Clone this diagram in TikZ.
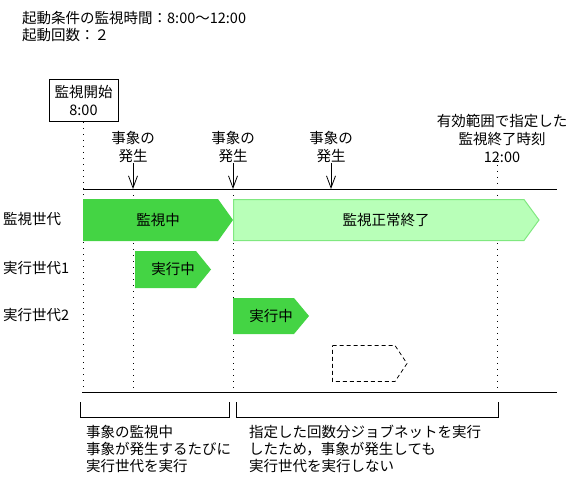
\documentclass[tikz,border=0pt]{standalone}
\usepackage{fontspec}
\setmainfont{Noto Sans CJK JP}
\usetikzlibrary{arrows.meta,positioning,calc}
\definecolor{runcolor}{RGB}{68,212,68}
\definecolor{donecolor}{RGB}{184,255,184}
\definecolor{doneedge}{RGB}{128,232,128}
\tikzset{
jptext/.style={
  font=\fontsize{14.5}{17}\selectfont,
  inner sep=0pt
},
rowlabel/.style={
  jptext,
  anchor=west
},
startbox/.style={
  draw,
  line width=1pt,
  minimum width=69pt,
  minimum height=42pt,
  align=center,
  jptext,
  font=\fontsize{14.5}{18}\selectfont
},
eventlabel/.style={
  jptext,
  align=center,
  font=\fontsize{14.5}{18}\selectfont
},
notetext/.style={
  jptext,
  align=left,
  anchor=west,
  font=\fontsize{14.5}{17}\selectfont
},
timeline/.style={
  line width=1pt
},
dotline/.style={
  line width=1pt,
  dash pattern=on 1pt off 5pt
},
evarrow/.style={
  -{Straight Barb[length=12pt,width=9pt]},
  line width=0.8pt
}
}

\begin{document}
\begin{tikzpicture}[x=1pt, y=-1pt,
    runbar/.style={fill=runcolor},
    donebar/.style={fill=donecolor, draw=doneedge, line width=1pt},
    skipbar/.style={draw=black, line width=0.8pt, dash pattern=on 4pt off 3pt},
    bartext/.style={jptext}
]
\useasboundingbox (0,0) rectangle (573,484);

% Kopf
\node[notetext] (head) at (22,26.5) {起動条件の監視時間：8:00～12:00\\起動回数：２};

% Zeitachse
\coordinate (tl) at (83,189);
\coordinate (tr) at (557,189);
\coordinate (bl) at (82,392);
\coordinate (br) at (557,392);
\draw[timeline] (tl) -- (tr);
\draw[timeline] (bl) -- (br);

% Beginn / Ende
\node[startbox] (start) at (83.5,100.5) {監視開始\\8:00};
\node[eventlabel] (endtime) at (502,138.5) {有効範囲で指定した\\監視終了時刻\\12:00};

% Ereignisse
\node[eventlabel] (ev1) at (133,147) {事象の\\発生};
\node[eventlabel] (ev2) at (233,147) {事象の\\発生};
\node[eventlabel] (ev3) at (331,147) {事象の\\発生};
\draw[evarrow] (ev1.south) -- (ev1 |- tl);
\draw[evarrow] (ev2.south) -- (ev2 |- tl);
\draw[evarrow] (ev3.south) -- (ev3 |- tl);

% Hilfslinien
\draw[dotline] (start.south -| tl) -- (bl -| tl);
\draw[dotline] (ev1 |- tl) -- (ev1 |- bl);
\draw[dotline] (ev2 |- tl) -- (ev2 |- bl);
\draw[dotline] ([yshift=4pt]endtime.south -| 497,0) -- (497,389);

% Zeilen
\node[rowlabel] (rowmon) at (3,219) {監視世代};
\node[rowlabel] (rowgen1) at (3,268) {実行世代1};
\node[rowlabel] (rowgen2) at (3,315) {実行世代2};

% Balken
\path[runbar] (83,199) -- (218,199) -- (233,220) -- (218,241) -- (83,241) -- cycle;
\node[bartext] (monrun) at (158,220) {監視中};

\path[donebar] (233.5,199.5) -- (524,199.5) -- (539,220) -- (524,240.5) -- (233.5,240.5) -- cycle;
\node[bartext] (mondone) at (386,220) {監視正常終了};

\path[runbar] (135,251) -- (196,251) -- (211,269.5) -- (196,288) -- (135,288) -- cycle;
\node[bartext] (gen1run) at (173,269.5) {実行中};

\path[runbar] (233,298) -- (294,298) -- (309,316) -- (294,334) -- (233,334) -- cycle;
\node[bartext] (gen2run) at (271,316) {実行中};

\path[skipbar] (332.5,345.5) -- (395,345.5) -- (407,363.5) -- (395,381.5) -- (332.5,381.5) -- cycle;

% Klammern
\draw[timeline] (80,402) |- (229,417) -- (229,402);
\draw[timeline] (236,402) |- (498,417) -- (498,402);

\node[notetext] (noteleft) at (86,449) {事象の監視中\\事象が発生するたびに\\実行世代を実行};
\node[notetext] (noteright) at (249,449) {指定した回数分ジョブネットを実行\\したため，事象が発生しても\\実行世代を実行しない};

\end{tikzpicture}
\end{document}
